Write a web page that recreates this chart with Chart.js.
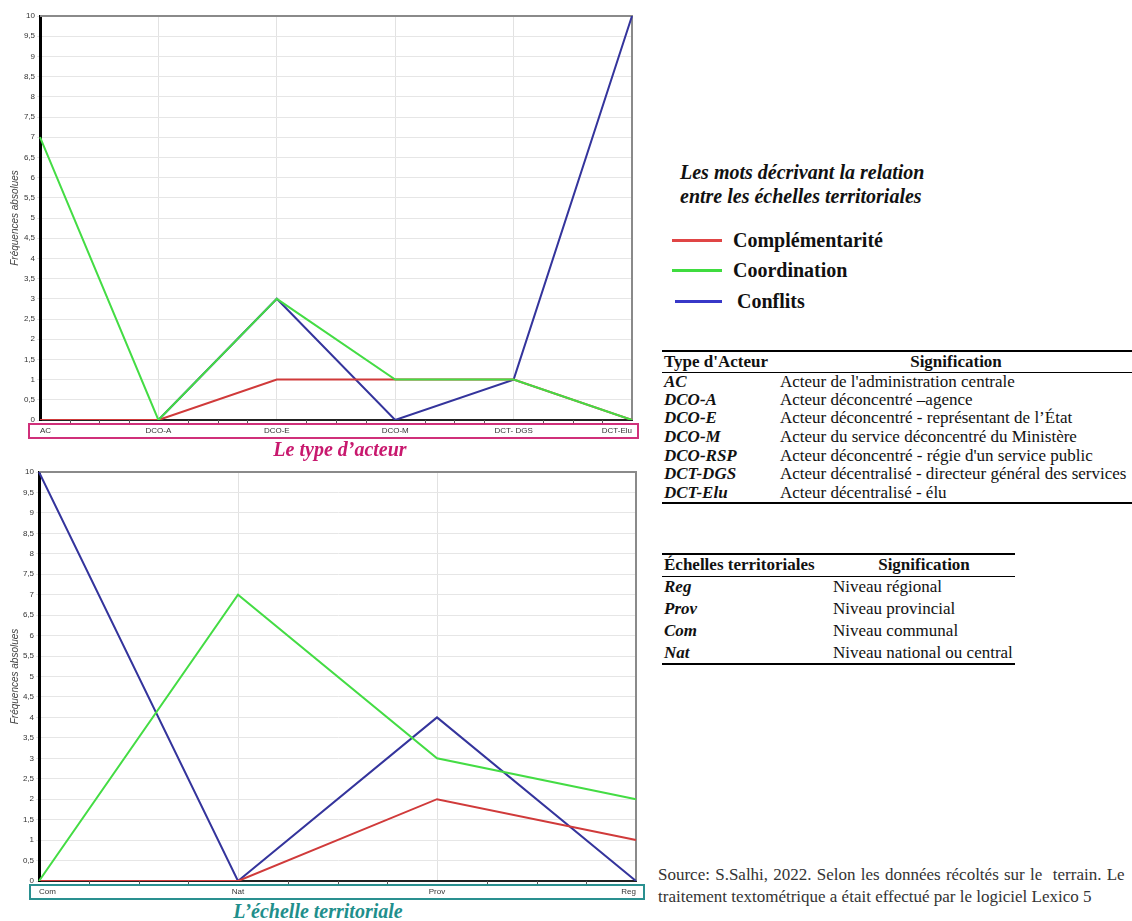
<!DOCTYPE html>
<html lang="fr">
<head>
<meta charset="utf-8">
<script src="https://cdn.jsdelivr.net/npm/chart.js@4.4.1/dist/chart.umd.min.js"></script>
<style>
  html, body { margin: 0; padding: 0; background: #fff; }
  body { width: 1132px; height: 921px; position: relative; overflow: hidden; font-family: "Liberation Serif", "DejaVu Serif", serif; color: #111; }
  .box { position: absolute; }
  .cap { position: absolute; font: bold italic 20px "Liberation Serif", serif; white-space: nowrap; transform: translateX(-50%); }
  .leg-title { position: absolute; left: 680px; top: 160px; font: bold italic 20px/24px "Liberation Serif", serif; white-space: nowrap; }
  .leg-item { position: absolute; left: 672px; font: bold 20px "Liberation Serif", serif; display: flex; align-items: center; height: 24px; white-space: nowrap; }
  .leg-item i { display: inline-block; width: 50px; height: 3px; margin-right: 11px; }
  table { position: absolute; border-collapse: collapse; font-family: "Liberation Serif", serif; font-size: 17px; line-height: 18px; table-layout: fixed; }
  table th { font-weight: bold; padding: 0 0 0 2px; text-align: left; border-bottom: 1px solid #000; white-space: nowrap; }
  table td { padding: 0 0 0 2px; white-space: nowrap; }
  table td:first-child { font-weight: bold; font-style: italic; }
  .src { position: absolute; left: 658px; top: 864px; font-family: "Liberation Serif", serif; font-size: 17px; line-height: 22px; color: #333; white-space: nowrap; }
</style>
</head>
<body>

<div class="box" style="left:0;top:0;width:645px;height:440px"><canvas id="chart-actor"></canvas></div>
<div class="cap" style="left:340px;top:438px;color:#c8186e">Le type d’acteur</div>

<div class="box" style="left:0;top:455px;width:648px;height:445px"><canvas id="chart-scale"></canvas></div>
<div class="cap" style="left:318px;top:900px;color:#1f8f8c">L’échelle territoriale</div>

<div class="leg-title">Les mots décrivant la relation<br>entre les échelles territoriales</div>
<div class="leg-item" style="top:228px"><i style="background:#e04545"></i>Complémentarité</div>
<div class="leg-item" style="top:258px"><i style="background:#3fdc3f"></i>Coordination</div>
<div class="leg-item" style="top:289px;left:675px"><i style="background:#3838c8;width:47px;margin-right:15px"></i>Conflits</div>

<table style="left:662px;top:350px;width:470px;border-top:2px solid #000;border-bottom:2px solid #000">
  <colgroup><col style="width:116px"><col></colgroup>
  <tr style="height:21px"><th>Type d'Acteur</th><th style="text-align:center">Signification</th></tr>
  <tr style="height:18.6px"><td>AC</td><td>Acteur de l'administration centrale</td></tr>
  <tr style="height:18.6px"><td>DCO-A</td><td>Acteur déconcentré –agence</td></tr>
  <tr style="height:18.6px"><td>DCO-E</td><td>Acteur déconcentré - représentant de l’État</td></tr>
  <tr style="height:18.6px"><td>DCO-M</td><td>Acteur du service déconcentré du Ministère</td></tr>
  <tr style="height:18.6px"><td>DCO-RSP</td><td>Acteur déconcentré - régie d'un service public</td></tr>
  <tr style="height:18.6px"><td>DCT-DGS</td><td>Acteur décentralisé - directeur général des services</td></tr>
  <tr style="height:18.6px"><td>DCT-Elu</td><td>Acteur décentralisé - élu</td></tr>
</table>

<table style="left:662px;top:553px;width:353px;border-top:2px solid #000;border-bottom:2px solid #000">
  <colgroup><col style="width:169px"><col></colgroup>
  <tr style="height:22px"><th>Échelles territoriales</th><th style="text-align:center">Signification</th></tr>
  <tr style="height:22px"><td>Reg</td><td>Niveau régional</td></tr>
  <tr style="height:22px"><td>Prov</td><td>Niveau provincial</td></tr>
  <tr style="height:22px"><td>Com</td><td>Niveau communal</td></tr>
  <tr style="height:22px"><td>Nat</td><td>Niveau national ou central</td></tr>
</table>

<div class="src"><span style="word-spacing:1px">Source: S.Salhi, 2022. Selon les données récoltés sur le&nbsp; terrain. Le</span><br>traitement textométrique a était effectué par le logiciel Lexico 5</div>

<script>
// values
const actorTypes = ["AC", "DCO-A", "DCO-E", "DCO-M", "DCT- DGS", "DCT-Elu"];
const actorCompl = [0, 0, 1, 1, 1, 0];
const actorCoord = [7, 0, 3, 1, 1, 0];
const actorConfl = [0, 0, 3, 0, 1, 10];

const scaleLevels = ["Com", "Nat", "Prov", "Reg"];
const levelCompl = [0, 0, 2, 1];
const levelCoord = [0, 7, 3, 2];
const levelConfl = [10, 0, 4, 0];

const RED = "#d03a3a", GREEN = "#44dc44", BLUE = "#34349c";

// grey frame on top/right, small ticks under the x axis, coloured box round the category labels
const framePlugin = {
  id: "frame",
  beforeDatasetsDraw(chart) {
    const { ctx, chartArea: a } = chart;
    ctx.save();
    ctx.strokeStyle = "#8a8a8a";
    ctx.lineWidth = 2;
    ctx.beginPath();
    ctx.moveTo(a.left, a.top); ctx.lineTo(a.right, a.top); ctx.lineTo(a.right, a.bottom);
    ctx.stroke();
    ctx.restore();
  },
  afterDraw(chart, args, opts) {
    const { ctx, chartArea: a, scales } = chart;
    const x = scales.x;
    ctx.save();
    ctx.strokeStyle = "#555";
    ctx.lineWidth = 1;
    ctx.beginPath();
    for (let i = 0; i < chart.data.labels.length - 1; i++) {
      for (let k = 1; k < 4; k++) {
        const px = Math.round(x.getPixelForValue(i + k / 4)) + 0.5;
        ctx.moveTo(px, a.bottom); ctx.lineTo(px, a.bottom + 3);
      }
    }
    ctx.stroke();
    ctx.strokeStyle = opts.color;
    ctx.lineWidth = 2;
    ctx.strokeRect(a.left - opts.padL, a.bottom + 4, a.right - a.left + opts.padL + opts.padR, 14);
    ctx.restore();
  },
};

function lineChart(canvas, labels, compl, coord, confl, boxColor, pad) {
  const ds = (data, color, order) => ({ data, borderColor: color, borderWidth: 2, pointRadius: 0, tension: 0, order });
  return new Chart(canvas, {
    type: "line",
    data: {
      labels,
      datasets: [ds(coord, GREEN, 0), ds(compl, RED, 1), ds(confl, BLUE, 2)],
    },
    options: {
      responsive: true, maintainAspectRatio: false, animation: false,
      layout: { padding: { top: pad.top, right: pad.right, left: 0, bottom: 0 } },
      plugins: { legend: { display: false }, tooltip: { enabled: false }, frame: { color: boxColor, padL: pad.boxL, padR: pad.boxR } },
      scales: {
        x: {
          offset: false,
          grid: { color: "#e2e2e2", drawTicks: false },
          border: { color: "#222", width: 2 },
          ticks: { align: "inner", padding: 6, maxRotation: 0, autoSkip: false, color: "#333", font: { family: "Liberation Sans", size: 8 } },
          afterFit: (s) => { s.height = pad.xh; },
        },
        y: {
          min: 0, max: 10,
          grid: { color: "#e6e6e6", tickLength: 3 },
          border: { color: "#000", width: 3 },
          ticks: { stepSize: 0.5, padding: 2, color: "#333", font: { family: "Liberation Sans", size: 8 },
                   callback: (v) => String(v).replace(".", ",") },
          title: { display: true, text: "Fréquences absolues", color: "#444", padding: { top: 9, bottom: 0 },
                   font: { family: "Liberation Sans", size: 10, style: "italic" } },
          afterFit: (s) => { s.width = pad.left; },
        },
      },
    },
    plugins: [framePlugin],
  });
}

lineChart(document.getElementById("chart-actor"), actorTypes, actorCompl, actorCoord, actorConfl, "#d0307a",
  { top: 16, right: 13, left: 40, xh: 20, boxL: 11, boxR: 6 });
lineChart(document.getElementById("chart-scale"), scaleLevels, levelCompl, levelCoord, levelConfl, "#2a9090",
  { top: 17, right: 12, left: 39, xh: 19, boxL: 9, boxR: 8 });
</script>
</body>
</html>
